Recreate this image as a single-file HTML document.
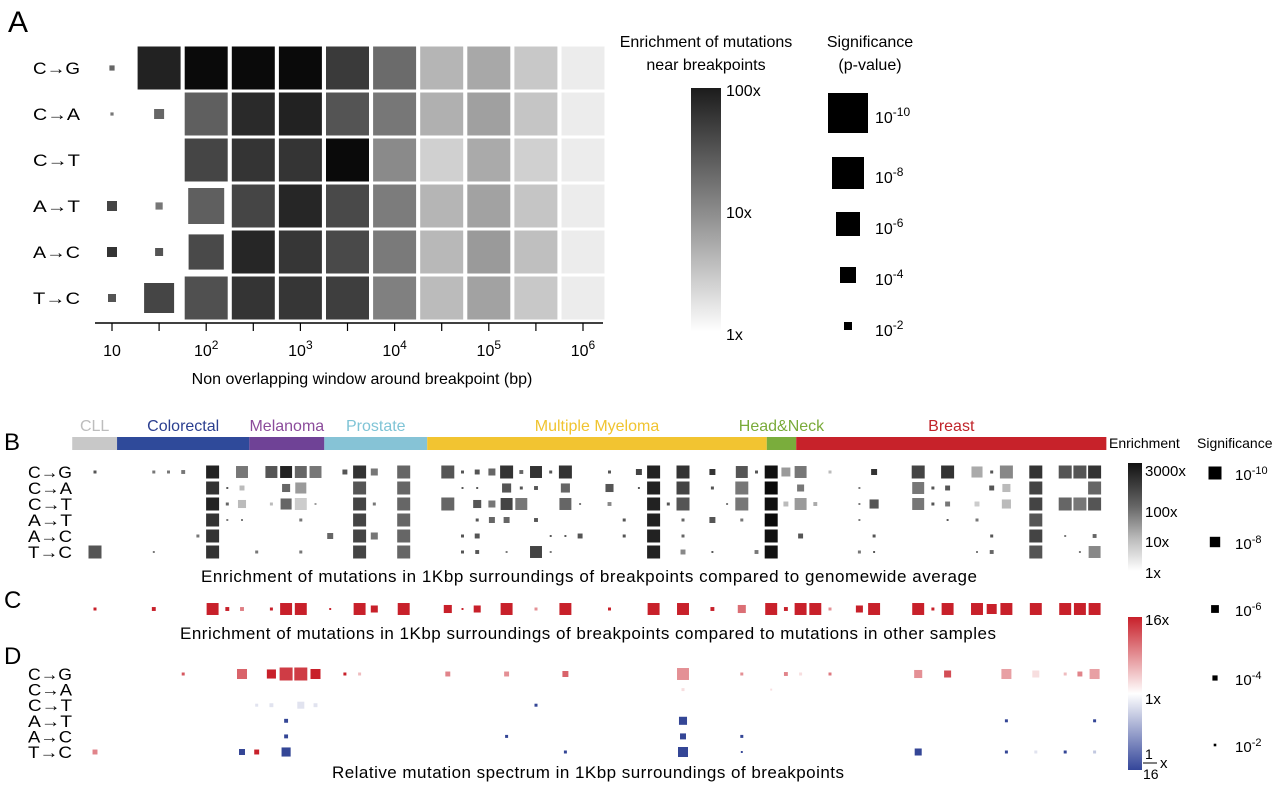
<!DOCTYPE html>
<html><head><meta charset="utf-8">
<style>
html,body{margin:0;padding:0;background:#fff;}
svg{display:block;font-family:"Liberation Sans",Arial,sans-serif;}
</style></head>
<body>
<svg id="fig" width="1280" height="787" viewBox="0 0 1280 787" xmlns="http://www.w3.org/2000/svg">
<defs>
<linearGradient id="gA" x1="0" y1="0" x2="0" y2="1"><stop offset="0" stop-color="#1c1c1c"/><stop offset="0.5" stop-color="#8a8a8a"/><stop offset="1" stop-color="#ffffff"/></linearGradient>
<linearGradient id="gB" x1="0" y1="0" x2="0" y2="1"><stop offset="0" stop-color="#111"/><stop offset="0.4" stop-color="#666"/><stop offset="0.7" stop-color="#bbb"/><stop offset="1" stop-color="#fff"/></linearGradient>
<linearGradient id="gD" x1="0" y1="0" x2="0" y2="1"><stop offset="0" stop-color="#c8202a"/><stop offset="0.5" stop-color="#ffffff"/><stop offset="1" stop-color="#34469a"/></linearGradient>
</defs>
<g id="panelA"></g>
<g id="legendA">
  <text x="706" y="47" font-size="16" text-anchor="middle">Enrichment of mutations</text>
  <text x="706" y="70" font-size="16" text-anchor="middle">near breakpoints</text>
  <rect x="691" y="88" width="30" height="244" fill="url(#gA)"/>
  <text x="726" y="96" font-size="16">100x</text>
  <text x="726" y="218" font-size="16">10x</text>
  <text x="726" y="340" font-size="16">1x</text>
  <text x="870" y="47" font-size="16" text-anchor="middle">Significance</text>
  <text x="870" y="70" font-size="16" text-anchor="middle">(p-value)</text>
</g>
<g id="panelB"></g>
<g id="panelC"></g>
<g id="panelD"></g>
<g id="legendR">
  <text x="1109" y="448" font-size="14">Enrichment</text>
  <text x="1197" y="448" font-size="14">Significance</text>
  <rect x="1128" y="463" width="14" height="108" fill="url(#gB)"/>
  <text x="1145" y="476" font-size="15">3000x</text>
  <text x="1145" y="517" font-size="15">100x</text>
  <text x="1145" y="547" font-size="15">10x</text>
  <text x="1145" y="578" font-size="15">1x</text>
  <rect x="1128" y="617" width="14" height="153" fill="url(#gD)"/>
  <text x="1145" y="625" font-size="15">16x</text>
  <text x="1145" y="704" font-size="15">1x</text>
  <text x="1145" y="759" font-size="14">1</text>
  <line x1="1143" y1="763" x2="1157" y2="763" stroke="#000" stroke-width="1"/>
  <text x="1143" y="779" font-size="14">16</text>
  <text x="1160" y="768" font-size="15">x</text>
</g>
</svg>
<script>
// ---------- Panel A data ----------
var aRows = ["C→G","C→A","C→T","A→T","A→C","T→C"];
var aTickLabels = ["10","","2","","3","","4","","5","","6"];
var aEnrCG = [17.5,68,110,110,110,42,16,3.6,4.7,2.46,1.2];
var aEnrCA = [12.4,17.5,20,58,68,25,12.4,4.0,5.5,2.6,1.2];
var aEnrCT = [null,null,34,48,48,110,8.5,2.1,4.5,2.1,1.2];
var aEnrAT = [34,12.4,20,34,63,31,11.3,3.6,5.3,2.6,1.2];
var aEnrAC = [48,25,31,63,46,31,11.7,3.4,6.2,2.95,1.2];
var aEnrTC = [25,34,27,48,46,39,10.4,3.2,5.3,2.46,1.2];
var aSigCG = [1.3,12,12,12,12,12,12,12,12,12,12];
var aSigCA = [0.8,2.5,12,12,12,12,12,12,12,12,12];
var aSigCT = [null,null,12,12,12,12,12,12,12,12,12];
var aSigAT = [2.5,1.8,9,12,12,12,12,12,12,12,12];
var aSigAC = [2.5,2,8.8,12,12,12,12,12,12,12,12];
var aSigTC = [2,7.5,12,12,12,12,12,12,12,12,12];
var sigLegend = [10,8,6,4,2];

// ---------- Panels B-D data: [sampleIndex, value, -log10 p] ----------
var cancers = ["CLL","Colorectal","Melanoma","Prostate","Multiple Myeloma","Head&Neck","Breast"];
var cancerStart = [-1.55,1.5,10.5,15.6,22.6,45.7,47.7];
var cancerEnd = [1.5,10.5,15.6,22.6,45.7,47.7,68.8];
var bRows = ["C→G","C→A","C→T","A→T","A→C","T→C"];
var bCG = [[0,245,2.3],[4,80,2.3],[5,80,2.3],[6,80,3],[8,1350,10],[10,80,9.2],[12,245,9.2],[13,1350,9.2],[14,140,9.2],[15,80,9.2],[17,245,3.8],[18,760,10],[19,80,5.4],[21,140,10],[24,245,10],[25,245,2.3],[26,245,3.8],[27,140,5.4],[28,760,10],[29,140,3],[30,760,9.2],[31,245,2.3],[32,760,10],[35,245,2.3],[37,435,4.6],[38,1350,10],[40,760,10],[42,760,4.6],[44,245,9.2],[45,245,2.3],[46,2400,10],[47,25,6.9],[48,80,9.2],[50,8.2,2.3],[53,760,4.6],[56,435,10],[58,760,10],[60,14.5,8.5],[61,245,2.3],[62,45,10],[64,760,10],[66,245,10],[67,245,10],[68,760,10]];
var bCA = [[8,760,10],[9,245,1.5],[10,8.2,3.8],[13,140,6.2],[14,25,8.5],[18,245,10],[21,140,10],[25,245,1.5],[26,245,1.5],[28,245,7],[29,245,2.3],[30,245,3],[32,140,7],[35,245,6.2],[37,245,1.5],[38,1350,10],[40,435,10],[42,245,2.3],[44,80,10],[46,3000,10],[48,80,5.4],[52,80,1.5],[56,80,9.2],[57,245,2.3],[58,245,3.8],[61,245,3.8],[62,8.2,6.2],[64,435,10],[68,140,10]];
var bCT = [[8,1350,10],[9,140,2.3],[10,8.2,6.2],[12,8.2,2.3],[13,140,8.5],[14,4.6,9.2],[15,25,1.5],[18,435,10],[19,80,2.3],[21,140,10],[24,140,10],[26,245,6.2],[27,80,5.4],[28,435,9.2],[29,80,9.2],[32,140,9.2],[33,80,1.5],[35,45,3],[38,1350,10],[39,245,2.3],[40,245,10],[43,80,1.5],[44,80,10],[46,2400,10],[47,8.2,3.8],[48,25,9.2],[49,14.5,3],[52,80,1.5],[53,245,7],[56,80,9.2],[57,245,2.3],[58,80,3.8],[60,4.6,3.8],[62,8.2,7],[64,435,10],[66,140,10],[67,80,10],[68,245,10]];
var bAT = [[8,760,10],[9,80,1.5],[10,80,1.5],[14,80,2.3],[18,435,10],[21,140,10],[26,245,2.3],[27,140,4.6],[28,140,4.6],[30,245,3],[36,245,2.3],[38,1350,10],[40,140,2.3],[42,245,4.6],[44,80,2.3],[46,3000,10],[52,80,1.5],[58,245,1.5],[60,80,2.3],[64,245,10]];
var bAC = [[7,80,2.3],[8,760,10],[16,140,4.6],[18,435,10],[19,80,5.4],[21,140,10],[25,245,2.3],[26,245,3.8],[31,245,1.5],[32,245,1.5],[33,245,3.8],[36,245,2.3],[38,1350,10],[40,140,2.3],[46,2400,10],[48,245,3.8],[53,245,2.3],[61,245,2.3],[64,435,10],[66,80,1.5],[68,140,3]];
var bTC = [[0,245,10],[4,80,1.5],[8,760,10],[11,80,2.3],[14,80,2.3],[18,435,10],[21,140,10],[25,245,2.3],[26,245,3],[28,80,1.5],[30,435,9.2],[31,80,1.5],[38,1350,10],[40,45,3.8],[42,245,1.5],[45,80,3],[46,2400,10],[52,80,2.3],[53,245,1.5],[60,80,1.5],[61,140,3],[64,245,10],[67,80,1.5],[68,45,9.2]];
var cVals = [[0,16,2.3],[4,16,3],[8,16,9.2],[9,16,3],[10,5,3],[12,16,2.3],[13,16,9.2],[14,16,9.2],[16,16,1.5],[18,16,9.2],[19,16,5.4],[21,16,9.2],[24,16,6.2],[25,16,1.5],[26,16,5.4],[28,16,9.2],[30,4,2.3],[32,16,9.2],[35,16,2.3],[38,16,9.2],[40,16,9.2],[42,16,3],[44,6,6.2],[46,16,9.2],[47,16,3],[48,16,9.2],[49,16,9.2],[50,4,2.3],[52,16,5.4],[53,16,9.2],[56,16,9.2],[57,16,2.3],[58,16,9.2],[60,16,9.2],[61,16,7.7],[62,16,9.2],[64,16,9.2],[66,16,9.2],[67,16,9.2],[68,16,9.2]];
var dCG = [[6,3,2.3],[10,2.8,7.7],[12,4,7],[13,3.5,10],[14,3.5,10],[15,4,7.7],[17,4,2.3],[18,1.2,2.3],[24,2.2,3.8],[28,2,3.8],[32,2.8,4.6],[40,2,9.2],[44,2,2.3],[47,2.2,3],[48,0.6,2.3],[50,2.4,2.3],[56,2,6.2],[58,3.2,5.4],[62,1.7,7.7],[64,0.6,5.4],[66,1.2,2.3],[67,2.2,3.8],[68,1.7,7.7]];
var dCA = [[40,0.6,2.3],[46,0.6,1.5]];
var dCT = [[11,-0.6,2.3],[12,-0.6,3],[14,-0.6,5.4],[15,-0.6,3],[30,-4,2.3]];
var dAT = [[13,-4,3],[40,-4,6.2],[62,-4,2.3],[68,-4,2.3]];
var dAC = [[13,-4,3],[28,-4,2.3],[40,-4,4.6],[44,-4,2.3]];
var dTC = [[0,2.2,3.8],[10,-4,4.6],[11,4,3.8],[13,-4,7],[32,-4,2.3],[40,-4,7.7],[44,-4,1.5],[56,-4,5.4],[62,-4,2.3],[64,-0.6,2.3],[66,-4,2.3],[68,-1.2,2.3]];
var sigLegendB = [10,8,6,4,2];

var NS = "http://www.w3.org/2000/svg";
function mk(tag, attrs, parent){ var e=document.createElementNS(NS,tag); for(var k in attrs) e.setAttribute(k,attrs[k]); parent.appendChild(e); return e; }
function hex(v){ v=Math.max(0,Math.min(255,Math.round(v))); return v; }
function grayCol(g){ g=hex(g); return "rgb("+g+","+g+","+g+")"; }
function mix(c,t){ t=Math.max(0,Math.min(1,t)); return "rgb("+hex(255+(c[0]-255)*t)+","+hex(255+(c[1]-255)*t)+","+hex(255+(c[2]-255)*t)+")"; }
var RED=[200,32,42], BLUE=[52,70,150];

// ---------- Panel A ----------
var A = document.getElementById("panelA");
function axX(i){ return 112 + i*47.1; }
function axY(j){ return 68 + j*46; }
function aGray(e){ return 245 - 115*Math.log10(e); }
function aSize(q){ return Math.min(43, 4*q); }
var t = mk("text",{x:8,y:32,"font-size":30},A); t.textContent="A";


var aEnr=[aEnrCG,aEnrCA,aEnrCT,aEnrAT,aEnrAC,aEnrTC];
var aSig=[aSigCG,aSigCA,aSigCT,aSigAT,aSigAC,aSigTC];
for (var j=0;j<aRows.length;j++){
  var lb = mk("text",{x:33,y:axY(j)+6,"font-size":17,textLength:47,lengthAdjust:"spacingAndGlyphs"},A); lb.textContent=aRows[j];
  
  
  for (var i=0;i<11;i++){
    var e=aEnr[j][i], q=aSig[j][i]; if(e==null||q==null) continue;
    var s=aSize(q);
    var r=mk("rect",{x:axX(i)-s/2,y:axY(j)-s/2,width:s,height:s,fill:grayCol(aGray(e))},A);
    
    
  }
}
var axl = mk("line",{x1:95,y1:323,x2:603,y2:323,stroke:"#000","stroke-width":1.5},A);


for (var i=0;i<11;i++){
  var tk=mk("line",{x1:axX(i),y1:323,x2:axX(i),y2:331,stroke:"#000","stroke-width":1.2},A);
  
  
  if (aTickLabels[i]!==""){
    var tl=mk("text",{x:axX(i),y:356,"font-size":16,"text-anchor":"middle"},A);
    
    
    if (i===0){ tl.textContent="10"; }
    else {
      var b=mk("tspan",{},tl); b.textContent="10";
      var sp=mk("tspan",{dy:-7,"font-size":12},tl); sp.textContent=aTickLabels[i];
    }
  }
}
var xt=mk("text",{x:362,y:384,"font-size":16,"text-anchor":"middle"},A); xt.textContent="Non overlapping window around breakpoint (bp)";



// Significance legend A
var LA=document.getElementById("legendA");
var lgY=[113,173,224,275,326];
for (var k=0;k<sigLegend.length;k++){
  var s=sigLegend[k]*4;
  var r=mk("rect",{x:848-s/2,y:lgY[k]-s/2,width:s,height:s,fill:"#000"},LA);
  
  
  var tt=mk("text",{x:875,y:lgY[k]+10,"font-size":16},LA);
  
  
  var b=mk("tspan",{},tt); b.textContent="10";
  var sp=mk("tspan",{dy:-7,"font-size":12},tt); sp.textContent="-"+sigLegend[k];
}

// ---------- Panels B-D ----------
function sx(i){ return 95 + i*14.7; }
function bSize(q){ return Math.min(13, 1.3*q); }
function bGray(e){ return Math.max(8, Math.min(250, 250 - 69*Math.log10(e))); }
var B=document.getElementById("panelB");
var tb=mk("text",{x:4,y:450,"font-size":24},B); tb.textContent="B";


var catCols=["#c8c8c8","#2f4a9a","#6f4296","#86c3d6","#f2c431","#7aad3c","#c7222a"];
var catText=["#bdbdbd","#2b3f90","#8b4b9b","#7fc4d6","#f0c430","#7aab3a","#c0242a"];
for (var c=0;c<cancers.length;c++){
  var x0=sx(cancerStart[c]), x1=sx(cancerEnd[c]);
  var br=mk("rect",{x:x0,y:437,width:x1-x0,height:13,fill:catCols[c]},B);
  
  
  var ct=mk("text",{x:(x0+x1)/2,y:431,"font-size":16,"text-anchor":"middle",fill:catText[c]},B); ct.textContent=cancers[c];
  
  
}
var bData=[bCG,bCA,bCT,bAT,bAC,bTC];
for (var j=0;j<bRows.length;j++){
  var y=472+j*16;
  var lb=mk("text",{x:28,y:y+6,"font-size":17,textLength:44,lengthAdjust:"spacingAndGlyphs"},B); lb.textContent=bRows[j];
  
  
  bData[j].forEach(function(d){
    var s=bSize(d[2]);
    var r=mk("rect",{x:sx(d[0])-s/2,y:y-s/2,width:s,height:s,fill:grayCol(bGray(d[1]))},B);
    
    
  });
}
var bt=mk("text",{x:201,y:582,"font-size":17,textLength:776},B); bt.textContent="Enrichment of mutations in 1Kbp surroundings of breakpoints compared to genomewide average";



var C=document.getElementById("panelC");
var tc=mk("text",{x:4,y:608,"font-size":24},C); tc.textContent="C";


cVals.forEach(function(d){
  var s=bSize(d[2]);
  var r=mk("rect",{x:sx(d[0])-s/2,y:609-s/2,width:s,height:s,fill:mix(RED,Math.log2(d[1])/4)},C);
  
  
});
var ctt=mk("text",{x:180,y:639,"font-size":17,textLength:816},C); ctt.textContent="Enrichment of mutations in 1Kbp surroundings of breakpoints compared to mutations in other samples";



var D=document.getElementById("panelD");
var td=mk("text",{x:4,y:664,"font-size":24},D); td.textContent="D";


var dData=[dCG,dCA,dCT,dAT,dAC,dTC];
for (var j=0;j<bRows.length;j++){
  var y=674+j*15.6;
  var lb=mk("text",{x:28,y:y+6,"font-size":17,textLength:44,lengthAdjust:"spacingAndGlyphs"},D); lb.textContent=bRows[j];
  
  
  dData[j].forEach(function(d){
    var s=bSize(d[2]);
    var col=d[1]>=0?mix(RED,d[1]/4):mix(BLUE,-d[1]/4);
    var r=mk("rect",{x:sx(d[0])-s/2,y:y-s/2,width:s,height:s,fill:col},D);
    
    
  });
}
var dtt=mk("text",{x:332,y:778,"font-size":17,textLength:512},D); dtt.textContent="Relative mutation spectrum in 1Kbp surroundings of breakpoints";



// Right significance legend
var LR=document.getElementById("legendR");
var lrY=[473,542,609,678,745];
for (var k=0;k<sigLegendB.length;k++){
  var s=bSize(sigLegendB[k]);
  var r=mk("rect",{x:1215-s/2,y:lrY[k]-s/2,width:s,height:s,fill:"#000"},LR);
  
  
  var tt=mk("text",{x:1235,y:lrY[k]+7,"font-size":15},LR);
  
  
  var b=mk("tspan",{},tt); b.textContent="10";
  var sp=mk("tspan",{dy:-6,"font-size":11},tt); sp.textContent="-"+sigLegendB[k];
}
</script>
</body></html>
